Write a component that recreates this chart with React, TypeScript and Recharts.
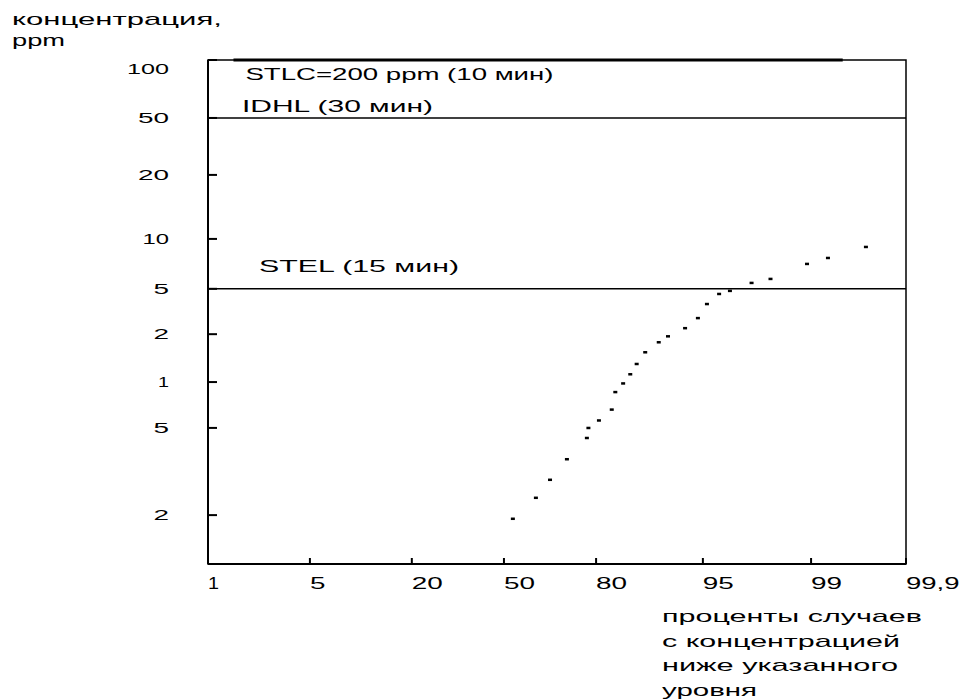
import { ScatterChart, Scatter, XAxis, YAxis, ReferenceLine, ReferenceArea } from "recharts";

const FONT = '"Liberation Sans", Arial, sans-serif';
const INK = "#000";

// x: percent of cases with concentration below the level (probability axis)
const xTicks = [1, 5, 20, 50, 80, 95, 99, 99.9];
const xTickLabels = ["1", "5", "20", "50", "80", "95", "99", "99,9"];
// the drawing's own uneven scale: where each tick sits along the axis (0..100)
const xTickStops = [0, 14.6, 29.2, 42.4, 55.6, 70.9, 86.4, 100];

// y: concentration, ppm (hand-drawn log axis, bottom labels are 0.5 and 0.2)
const yTicks = [100, 50, 20, 10, 5, 2, 1, 0.5, 0.2];
const yTickLabels = ["100", "50", "20", "10", "5", "2", "1", "5", "2"];
const yTickStops = [100, 88.5, 77.2, 64.5, 54.6, 45.6, 36.1, 27.0, 9.7];
const yFloorPpm = 0.1; // bottom edge of the plot

// measured cases
const casesPercent = [
  52.9, 60.4, 65, 70.5, 77, 77.5, 80.4, 82.2, 82.7, 83.8, 84.8, 85.7, 86.9,
  88.8, 90.1, 92.5, 94.3, 95.15, 95.6, 96.0, 96.8, 97.5, 98.85, 99.16, 99.52,
];
const concentrationPpm = [
  0.19, 0.24, 0.29, 0.36, 0.45, 0.5, 0.56, 0.66, 0.86, 0.98, 1.12, 1.3, 1.54,
  1.78, 1.94, 2.26, 2.77, 3.68, 4.51, 4.8, 5.43, 5.74, 7.07, 7.68, 8.95,
];

// exposure limits
const stlcPpm = 100; // drawn on the top edge (200 ppm is off the scale)
const stlcSpanPercent = [2, 99.3];
const idhlPpm = 50;
const stelPpm = 5;

function interp(v: number, values: number[], stops: number[], log: boolean) {
  for (let i = 0; i < values.length - 1; i++) {
    const a = values[i];
    const b = values[i + 1];
    if (v >= Math.min(a, b) && v <= Math.max(a, b)) {
      const t = log ? Math.log(v / a) / Math.log(b / a) : (v - a) / (b - a);
      return stops[i] + t * (stops[i + 1] - stops[i]);
    }
  }
  return stops[stops.length - 1];
}

const toX = (p: number) => interp(p, xTicks, xTickStops, false);
const toY = (ppm: number) =>
  interp(ppm, [...yTicks, yFloorPpm], [...yTickStops, 0], true);

const points = casesPercent.map((p, i) => ({
  x: toX(p),
  y: toY(concentrationPpm[i]),
}));

// width of a label in the old stretched bitmap font
function labelWidth(s: string) {
  let w = 0;
  for (const ch of s) w += ch === "1" ? 11 : ch === "," ? 7 : 15.5;
  return w;
}

function WideText({ x, y, text, width, size = 17, anchor = "start" }: any) {
  return (
    <text
      x={x}
      y={y}
      fontSize={size}
      fontFamily={FONT}
      fill={INK}
      textAnchor={anchor}
      textLength={width}
      lengthAdjust="spacingAndGlyphs"
    >
      {text}
    </text>
  );
}

function YTick({ x, y, payload }: any) {
  const i = yTickStops.indexOf(payload.value);
  const label = yTickLabels[i];
  const shift = i === 0 ? 9 : 0;
  return (
    <g>
      <line x1={x} y1={y} x2={x + 9} y2={y} stroke={INK} strokeWidth={2} />
      <WideText
        x={x - 39}
        y={y + shift + 5}
        text={label}
        width={labelWidth(label)}
        size={15}
        anchor="end"
      />
    </g>
  );
}

function XTick({ x, y, payload }: any) {
  const i = xTickStops.indexOf(payload.value);
  const label = xTickLabels[i];
  return (
    <g>
      <line x1={x} y1={y} x2={x} y2={y - 6} stroke={INK} strokeWidth={2} />
      <WideText x={x} y={y + 25} text={label} width={labelWidth(label)} />
    </g>
  );
}

function LineNote({ viewBox, text, dx, dy, width }: any) {
  if (!viewBox) return null;
  return <WideText x={viewBox.x + dx} y={viewBox.y + dy} text={text} width={width} />;
}

function YTitle({ viewBox }: any) {
  if (!viewBox) return null;
  return (
    <g>
      <WideText x={viewBox.x - 136} y={viewBox.y - 35} text="концентрация," width={210} />
      <WideText x={viewBox.x - 136} y={viewBox.y - 14} text="ppm" width={53} />
    </g>
  );
}

const xTitleLines = [
  { text: "проценты случаев", width: 260 },
  { text: "с концентрацией", width: 238 },
  { text: "ниже указанного", width: 236 },
  { text: "уровня", width: 95 },
];

function XTitle({ viewBox }: any) {
  if (!viewBox) return null;
  return (
    <g>
      {xTitleLines.map((l, i) => (
        <WideText
          key={i}
          x={viewBox.x + 454}
          y={viewBox.y + 58 + i * 24.5}
          text={l.text}
          width={l.width}
        />
      ))}
    </g>
  );
}

function Dash({ cx, cy }: any) {
  return <rect x={cx - 2} y={cy - 1.2} width={4} height={2.5} fill={INK} />;
}

export default function App() {
  return (
    <div
      style={{
        position: "absolute",
        left: 0,
        top: 0,
        width: 965,
        height: 700,
        background: "#fff",
        fontFamily: FONT,
      }}
    >
      <ScatterChart
        width={965}
        height={700}
        margin={{ top: 60, right: 59, bottom: 106, left: 148 }}
      >
        <XAxis
          type="number"
          dataKey="x"
          domain={[0, 100]}
          ticks={xTickStops}
          interval={0}
          tick={<XTick />}
          tickLine={false}
          tickSize={0}
          tickMargin={0}
          axisLine={{ stroke: INK, strokeWidth: 2 }}
          height={30}
          label={<XTitle />}
        />
        <YAxis
          type="number"
          dataKey="y"
          domain={[0, 100]}
          ticks={yTickStops}
          interval={0}
          tick={<YTick />}
          tickLine={false}
          tickSize={0}
          tickMargin={0}
          axisLine={{ stroke: INK, strokeWidth: 2 }}
          width={60}
          label={<YTitle />}
        />
        <ReferenceArea
          x1={0}
          x2={100}
          y1={0}
          y2={100}
          fill="none"
          stroke={INK}
          strokeWidth={1.5}
        />
        <ReferenceLine
          segment={[
            { x: toX(stlcSpanPercent[0]), y: toY(stlcPpm) },
            { x: toX(stlcSpanPercent[1]), y: toY(stlcPpm) },
          ]}
          stroke={INK}
          strokeWidth={3}
          label={<LineNote text="STLC=200 ppm (10 мин)" dx={12} dy={20} width={308} />}
        />
        <ReferenceLine
          y={toY(idhlPpm)}
          stroke={INK}
          strokeWidth={1.5}
          label={<LineNote text="IDHL (30 мин)" dx={34} dy={-6} width={191} />}
        />
        <ReferenceLine
          y={toY(stelPpm)}
          stroke={INK}
          strokeWidth={1.5}
          label={<LineNote text="STEL (15 мин)" dx={51} dy={-17} width={200} />}
        />
        <Scatter data={points} shape={<Dash />} isAnimationActive={false} />
      </ScatterChart>
    </div>
  );
}
